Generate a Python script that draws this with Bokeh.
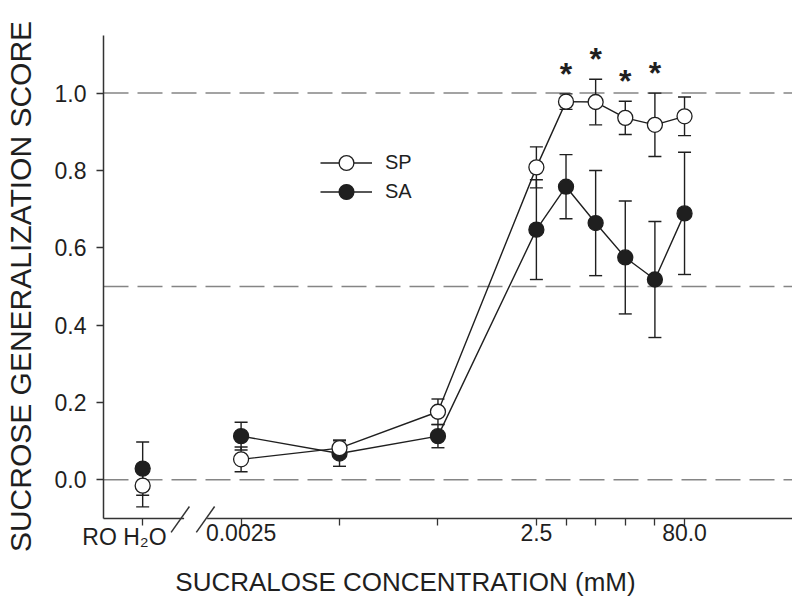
import math
from bokeh.plotting import figure
from bokeh.models import (Range1d, FixedTicker, NumeralTickFormatter, Span, Legend,
                          LegendItem)
from bokeh.core.properties import value
from bokeh.embed import file_html
from bokeh.resources import INLINE

# ---------------- data ----------------
conc = [0.0025, 0.025, 0.25, 2.5, 5.0, 10.0, 20.0, 40.0, 80.0]
sp_mean = [0.053, 0.082, 0.176, 0.808, 0.978, 0.977, 0.936, 0.918, 0.940]
sp_sem = [0.032, 0.021, 0.033, 0.053, 0.020, 0.059, 0.043, 0.082, 0.050]
sa_mean = [0.113, 0.068, 0.113, 0.647, 0.758, 0.664, 0.575, 0.518, 0.689]
sa_sem = [0.036, 0.033, 0.030, 0.129, 0.083, 0.136, 0.146, 0.150, 0.158]
water_sp = [-0.015]
water_sp_sem = [0.055]
water_sa = [0.029]
water_sa_sem = [0.069]
significant = [False, False, False, False, True, True, True, True, False]
x_tick_labels = {"water": "RO H\u2082O", 0.0025: "0.0025", 2.5: "2.5", 80.0: "80.0"}
y_ticks = [0.0, 0.2, 0.4, 0.6, 0.8, 1.0]
ref_levels = [0.0, 0.5, 1.0]
x_title = "SUCRALOSE CONCENTRATION (mM)"
y_title = "SUCROSE GENERALIZATION SCORE"

# ---------------- style ----------------
INK = "#1f1f1f"
AX = "#333333"
SANS = "Liberation Sans"
TICK_FS = "23px"

X0, X1 = 1e-4, 1e3
Y0, Y1 = -0.1, 1.149
water_x = conc[0] / 10.0

FRAME_L, FRAME_T, FRAME_W, FRAME_H = 103, 35, 689, 483
p = figure(width=792, height=599, x_axis_type="log",
           x_range=Range1d(X0, X1), y_range=Range1d(Y0, Y1),
           output_backend="svg", toolbar_location=None, title=None,
           min_border_left=FRAME_L, min_border_right=0, min_border_top=FRAME_T,
           min_border_bottom=599 - FRAME_T - FRAME_H)
p.outline_line_color = None
p.grid.visible = False
p.background_fill_color = "white"
p.border_fill_color = "white"

ppd = FRAME_W / math.log10(X1 / X0)   # pixels per decade
ppu = FRAME_H / (Y1 - Y0)             # pixels per y unit


def page_to_x(px):
    return 10 ** (math.log10(X0) + (px - FRAME_L) / ppd)


def page_to_y(py):
    return Y0 + (FRAME_T + FRAME_H - py) / ppu


# x axis
all_x = [water_x] + conc
p.xaxis.ticker = FixedTicker(ticks=all_x, minor_ticks=[])
overrides = {x: "" for x in all_x}
for k, v in x_tick_labels.items():
    if k != "water":
        overrides[k] = v
p.xaxis.major_label_overrides = overrides
p.xaxis.axis_line_color = None
p.xaxis.major_tick_out = 7
p.xaxis.major_tick_in = 0
p.xaxis.major_tick_line_color = AX
p.xaxis.major_tick_line_width = 1.3
p.xaxis.minor_tick_line_color = None
p.xaxis.major_label_text_font = SANS
p.xaxis.major_label_text_font_size = TICK_FS
p.xaxis.major_label_text_color = INK
p.xaxis.major_label_standoff = -2

# water label sits left of its tick, as in the original
p.text(x=[page_to_x(124)], y=[page_to_y(536)], text=[x_tick_labels["water"]],
       text_font=value(SANS), text_font_size=TICK_FS, text_color=INK,
       text_align="center", text_baseline="middle", level="overlay")

# y axis
p.yaxis.ticker = FixedTicker(ticks=y_ticks, minor_ticks=[])
p.yaxis.formatter = NumeralTickFormatter(format="0.0")
p.yaxis.axis_line_color = AX
p.yaxis.axis_line_width = 1.5
p.yaxis.major_tick_out = 7
p.yaxis.major_tick_in = 0
p.yaxis.major_tick_line_color = AX
p.yaxis.major_tick_line_width = 1.3
p.yaxis.minor_tick_line_color = None
p.yaxis.major_label_text_font = SANS
p.yaxis.major_label_text_font_size = TICK_FS
p.yaxis.major_label_text_color = INK
p.yaxis.major_label_standoff = 10

# reference dashed lines
for v in ref_levels:
    p.add_layout(Span(location=v, dimension="width", line_color="#858585",
                      line_width=1.5, line_dash="25 9", level="underlay"))

# own x-axis line with break
lw = math.log10(water_x)
brk_lo = 10 ** (lw + 0.421)
brk_hi = 10 ** (lw + 0.655)
p.segment(x0=[X0, brk_hi], y0=[Y0, Y0], x1=[brk_lo, X1], y1=[Y0, Y0],
          line_color=AX, line_width=1.5, level="overlay")
slash_c = [lw + 0.382, lw + 0.638]
p.segment(x0=[10 ** (c - 0.093) for c in slash_c], y0=[Y0 - 0.036] * 2,
          x1=[10 ** (c + 0.093) for c in slash_c], y1=[Y0 + 0.031] * 2,
          line_color=AX, line_width=1.5, level="overlay")

# series
sp_x = [water_x] + conc
sp_y = water_sp + sp_mean
sp_e = water_sp_sem + sp_sem
sa_y = water_sa + sa_mean
sa_e = water_sa_sem + sa_sem

sa_line = p.line(conc, sa_mean, line_color=INK, line_width=1.4)
sp_line = p.line(conc, sp_mean, line_color=INK, line_width=1.4)

for ys, es in [(sa_y, sa_e), (sp_y, sp_e)]:
    lo = [y - e for y, e in zip(ys, es)]
    hi = [y + e for y, e in zip(ys, es)]
    p.segment(x0=sp_x, y0=lo, x1=sp_x, y1=hi, line_color=INK, line_width=1.4)
    p.scatter(x=sp_x + sp_x, y=lo + hi, marker="dash", size=13,
              line_color=INK, line_width=1.4)

sa_pts = p.scatter(sp_x, sa_y, marker="circle", size=15, fill_color=INK,
                   line_color=INK, line_width=1.3)
sp_pts = p.scatter(sp_x, sp_y, marker="circle", size=15, fill_color="white",
                   line_color=INK, line_width=1.3)

# significance asterisks
star_x = [x for x, s in zip(conc, significant) if s]
star_y = [m + e + 20.0 / ppu for m, e, s in zip(sp_mean, sp_sem, significant) if s]
p.text(x=star_x, y=star_y, text=["*"] * len(star_x), text_font=value(SANS),
       text_font_size="32px", text_font_style="bold", text_align="center",
       text_baseline="middle", text_color=INK)

# legends (one per entry)
for lab, rends, yloc in [("SP", [sp_line, sp_pts], 337), ("SA", [sa_line, sa_pts], 308)]:
    lg = Legend(items=[LegendItem(label=lab, renderers=rends)], location=(217, yloc),
                glyph_width=52, glyph_height=37, padding=0, margin=0,
                label_standoff=13, label_text_font=SANS,
                label_text_font_size="20px", label_text_color=INK,
                border_line_color=None, background_fill_alpha=0)
    p.add_layout(lg)

# axis titles (overlay text, outside the frame)
p.text(x=[page_to_x(405)], y=[page_to_y(581)], text=[x_title],
       text_font=value(SANS), text_font_size="26px", text_color=INK,
       text_align="center", text_baseline="middle", level="overlay")
p.text(x=[page_to_x(20)], y=[page_to_y(286)], text=[y_title],
       text_font=value(SANS), text_font_size="30px", text_color=INK,
       text_align="center", text_baseline="middle", angle=math.pi / 2,
       level="overlay")

open("out.html", "w").write(file_html(p, INLINE))
